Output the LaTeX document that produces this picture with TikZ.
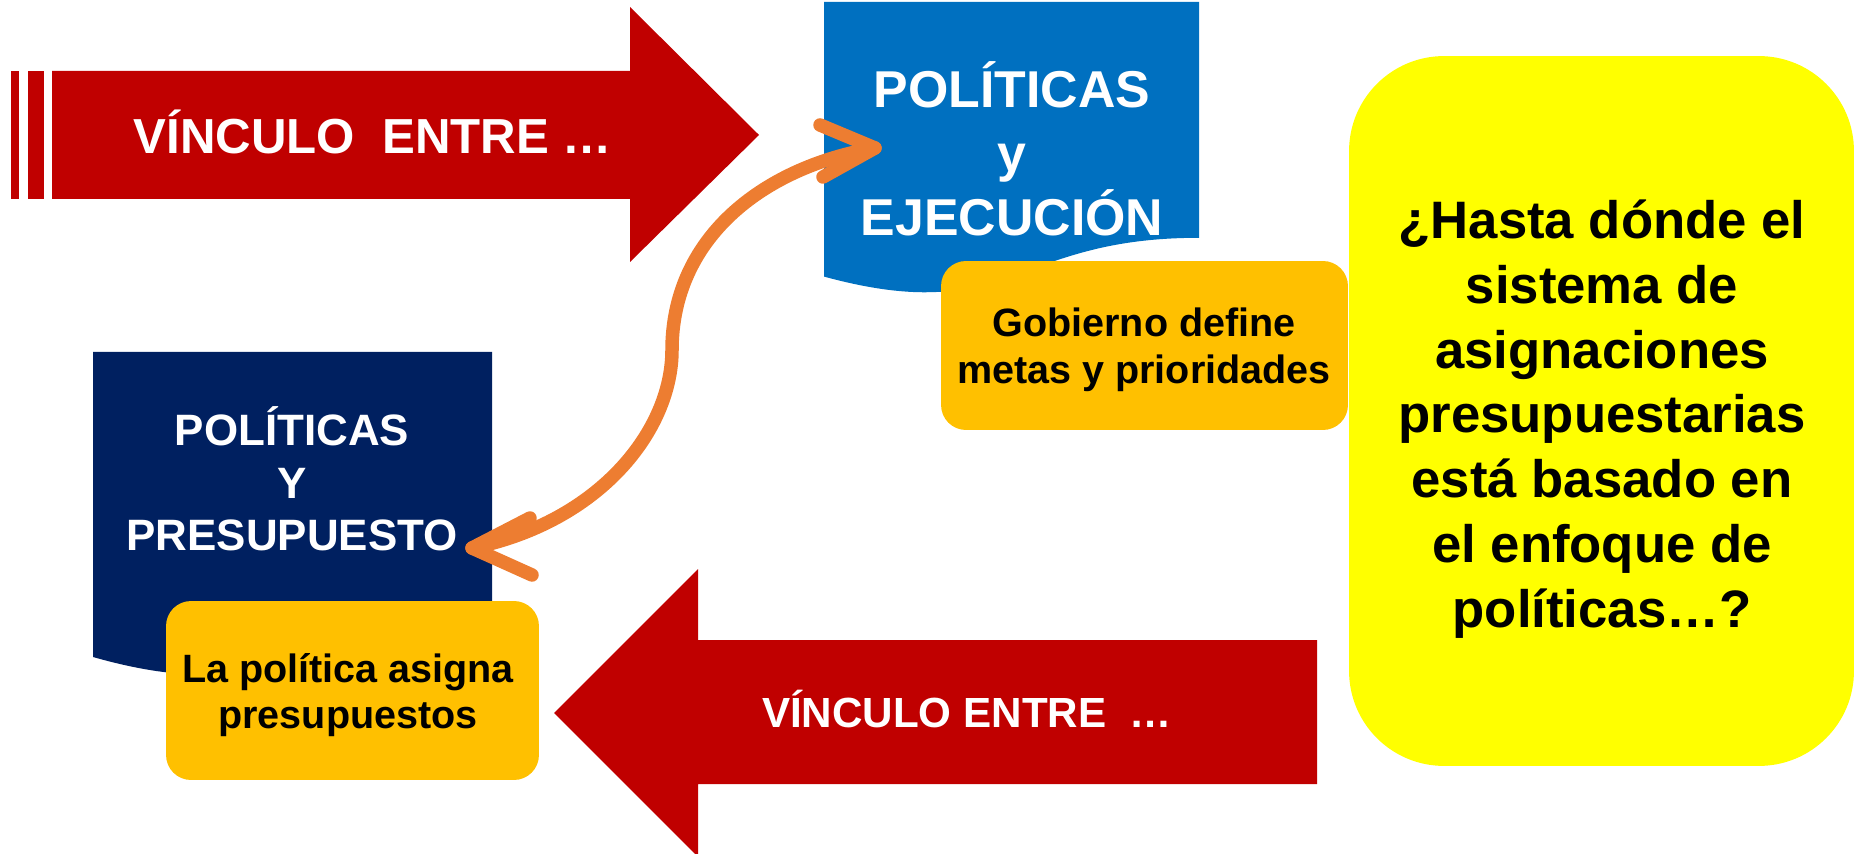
\documentclass[tikz,border=0pt]{standalone}
\usepackage{fontspec}
\setmainfont{Liberation Sans}
\usepackage{xcolor}
\usepackage{tikz}
\usetikzlibrary{positioning}

\definecolor{vinculored}{HTML}{C00000}
\definecolor{ejecblue}{HTML}{0070C0}
\definecolor{presunavy}{HTML}{002060}
\definecolor{notegold}{HTML}{FFC000}
\definecolor{askyellow}{HTML}{FFFF00}
\definecolor{linkorange}{HTML}{ED7D31}

\tikzset{
    whitetext/.style={text=white, align=center, inner sep=0pt},
    blacktext/.style={text=black, align=center, inner sep=0pt},
    notebox/.style={rectangle, fill=notegold, rounded corners=0.5cm, inner sep=0pt},
    linkline/.style={draw=linkorange, line width=0.27cm, line cap=round, line join=round}
}

\begin{document}
\begin{tikzpicture}[x=0.02cm, y=-0.02cm]
    \useasboundingbox (0,0) rectangle (1855,854);

    % upper arrow with stripes
    \fill[vinculored] (11,71) rectangle (19,199);
    \fill[vinculored] (28,71) rectangle (44,199);
    \fill[vinculored] (52,71) -- (630,71) -- (630,7) -- (759,135) -- (630,262) -- (630,199) -- (52,199) -- cycle;
    \node(vinculotop) [whitetext, font=\bfseries\fontsize{28}{32}\selectfont] at (373,132) {VÍNCULO~~ENTRE …};

    % policies and execution
    \fill[ejecblue] (824,2) -- (1199,2) -- (1199,237.8) .. controls (1011.5,237.8) and (1011.5,327.6) .. (824,276.6) -- cycle;
    \node(polejec) [whitetext, font=\bfseries\fontsize{29.5}{36.3}\selectfont] at (1012,149) {POLÍTICAS\\y\\EJECUCIÓN};
    \node(metasbox) [notebox, minimum width=8.14cm, minimum height=3.38cm] at (1144.5,345.5) {};
    \node(metas) [blacktext, font=\bfseries\fontsize{22.5}{26.6}\selectfont] at (1144,350) {Gobierno define\\metas y prioridades};

    % question box
    \node(preguntabox) [rectangle, fill=askyellow, rounded corners=1.9cm, minimum width=10.1cm, minimum height=14.2cm] at (1601.5,411) {};
    \node(pregunta) [blacktext, font=\bfseries\fontsize{30}{36.9}\selectfont] at (1602,419)
        {¿Hasta dónde el\\sistema de\\asignaciones\\presupuestarias\\está basado en\\el enfoque de\\políticas…?};

    % policies and budget
    \fill[presunavy] (93,352) -- (492,352) -- (492,613.9) .. controls (292.5,613.9) and (292.5,713.7) .. (93,657) -- cycle;
    \node(polpres) [whitetext, font=\bfseries\fontsize{25}{30}\selectfont] at (292,479) {POLÍTICAS\\Y\\PRESUPUESTO};
    \node(asignabox) [notebox, minimum width=7.46cm, minimum height=3.58cm] at (352.5,690.5) {};
    \node(asigna) [blacktext, font=\bfseries\fontsize{22.5}{26.6}\selectfont] at (348,695) {La política asigna\\presupuestos};

    % lower arrow
    \fill[vinculored] (1317,640) -- (698,640) -- (698,569) -- (554,713) -- (698,857) -- (698,784) -- (1317,784) -- cycle;
    \node(vinculobot) [whitetext, font=\bfseries\fontsize{24}{29}\selectfont] at (967,709) {VÍNCULO ENTRE~~…};

    % link between the two, with open heads at both ends
    \coordinate (linkpres) at (472,548);
    \coordinate (linkejec) at (875,148);
    \path[linkline] (linkpres) .. controls (600,522) and (672,430) .. (672,350)
        .. controls (672,240) and (760,168) .. (linkejec);
    \path[linkline] (linkpres) ++(58,-30) -- (linkpres) -- ++(60,27);
    \path[linkline] (linkejec) ++(-55,-23) -- (linkejec) -- ++(-52,29);
\end{tikzpicture}
\end{document}
